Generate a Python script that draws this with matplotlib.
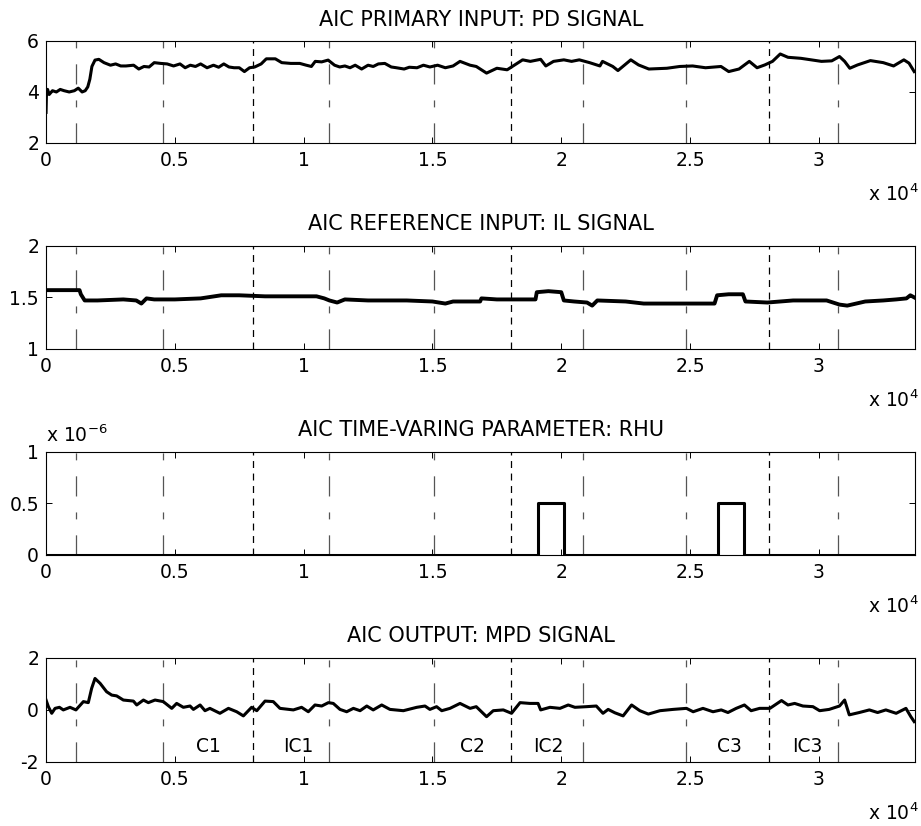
import numpy as np
import matplotlib
matplotlib.use("Agg")
import matplotlib.pyplot as plt
from matplotlib.ticker import FormatStrFormatter

plt.rcParams['font.family'] = 'DejaVu Sans'
plt.rcParams['lines.scale_dashes'] = False
plt.rcParams['mathtext.default'] = 'regular'

# time axis is in units of 10^4 samples
XMAX = 3.375

# AIC primary input: PD signal
pd_t = [0, 0.002, 0.006, 0.012, 0.025, 0.04, 0.055, 0.07, 0.09, 0.11,
        0.125, 0.14, 0.152, 0.162, 0.17, 0.178, 0.19, 0.205, 0.225, 0.25,
        0.27, 0.29, 0.31, 0.34, 0.36, 0.38, 0.40, 0.42, 0.445, 0.47,
        0.495, 0.52, 0.54, 0.56, 0.58, 0.60, 0.625, 0.65, 0.67, 0.69,
        0.71, 0.73, 0.75, 0.77, 0.79, 0.81, 0.835, 0.855, 0.875, 0.89,
        0.915, 0.95, 0.985, 1.01, 1.03, 1.045, 1.07, 1.095, 1.12, 1.14,
        1.16, 1.18, 1.20, 1.225, 1.25, 1.27, 1.29, 1.315, 1.34, 1.36,
        1.39, 1.41, 1.44, 1.465, 1.49, 1.52, 1.55, 1.58, 1.607, 1.646,
        1.67, 1.71, 1.75, 1.79, 1.81, 1.85, 1.88, 1.92, 1.94, 1.97,
        2.01, 2.04, 2.07, 2.11, 2.15, 2.16, 2.20, 2.22, 2.27, 2.30,
        2.34, 2.41, 2.46, 2.51, 2.56, 2.62, 2.65, 2.69, 2.73, 2.76,
        2.79, 2.82, 2.85, 2.88, 2.93, 2.97, 3.01, 3.05, 3.08, 3.10,
        3.12, 3.15, 3.20, 3.25, 3.29, 3.33, 3.35, 3.37]
pd_y = [3.2, 4.1, 4.1, 3.9, 4.05, 4.0, 4.1, 4.05, 4.0, 4.05,
        4.15, 4.0, 4.05, 4.2, 4.5, 5.0, 5.25, 5.28, 5.15, 5.05,
        5.1, 5.02, 5.02, 5.05, 4.9, 5.0, 4.98, 5.15, 5.12, 5.1,
        5.02, 5.1, 4.95, 5.05, 5.0, 5.1, 4.95, 5.05, 4.97, 5.1,
        4.98, 4.95, 4.95, 4.8, 4.95, 4.98, 5.1, 5.3, 5.3, 5.3,
        5.15, 5.12, 5.12, 5.05, 5.0, 5.2, 5.18, 5.25, 5.05, 4.98,
        5.02, 4.95, 5.05, 4.9, 5.05, 5.0, 5.1, 5.12, 4.98, 4.95,
        4.9, 4.97, 4.95, 5.05, 4.98, 5.05, 4.95, 5.02, 5.2, 5.05,
        5.0, 4.74, 4.93, 4.87, 5.0, 5.26, 5.2, 5.28, 5.02, 5.2,
        5.26, 5.2, 5.26, 5.15, 5.02, 5.2, 5.0, 4.84, 5.26, 5.06,
        4.9, 4.93, 5.0, 5.02, 4.95, 5.0, 4.8, 4.9, 5.2, 4.95,
        5.06, 5.2, 5.49, 5.36, 5.32, 5.26, 5.2, 5.22, 5.39, 5.2,
        4.93, 5.06, 5.23, 5.15, 5.02, 5.26, 5.13, 4.8]

# AIC reference input: IL signal
il_t = [0, 0.13, 0.135, 0.15, 0.2, 0.3, 0.35, 0.37, 0.39, 0.42,
        0.5, 0.6, 0.68, 0.75, 0.85, 1.0, 1.05, 1.08, 1.1, 1.13,
        1.16, 1.25, 1.4, 1.5, 1.55, 1.58, 1.62, 1.685, 1.69, 1.75,
        1.9, 1.905, 1.95, 2.0, 2.01, 2.05, 2.1, 2.12, 2.14, 2.25,
        2.32, 2.45, 2.55, 2.595, 2.605, 2.65, 2.705, 2.715, 2.8, 2.9,
        3.03, 3.08, 3.11, 3.18, 3.25, 3.3, 3.34, 3.355, 3.37]
il_y = [1.57, 1.57, 1.53, 1.47, 1.47, 1.48, 1.47, 1.44, 1.49, 1.48,
        1.48, 1.49, 1.52, 1.52, 1.51, 1.51, 1.51, 1.49, 1.47, 1.45,
        1.48, 1.47, 1.47, 1.46, 1.44, 1.46, 1.46, 1.46, 1.49, 1.48,
        1.48, 1.55, 1.56, 1.55, 1.47, 1.46, 1.45, 1.42, 1.47, 1.46,
        1.44, 1.44, 1.44, 1.44, 1.52, 1.53, 1.53, 1.46, 1.45, 1.47,
        1.47, 1.43, 1.42, 1.46, 1.47, 1.48, 1.49, 1.52, 1.50]

# AIC time-varying parameter: RHU (x 1e-6)
rhu_t = [0, 1.91, 1.91, 2.01, 2.01, 2.61, 2.61, 2.71, 2.71, 3.375]
rhu_y = [0, 0, 0.5, 0.5, 0, 0, 0.5, 0.5, 0, 0]

# AIC output: MPD signal
mpd_t = [0, 0.009, 0.022, 0.035, 0.052, 0.067, 0.093, 0.116, 0.145, 0.164,
         0.177, 0.19, 0.21, 0.235, 0.255, 0.274, 0.30, 0.339, 0.352, 0.378,
         0.397, 0.423, 0.455, 0.488, 0.507, 0.533, 0.559, 0.572, 0.598, 0.617,
         0.636, 0.675, 0.708, 0.74, 0.766, 0.798, 0.818, 0.85, 0.882, 0.908,
         0.96, 0.992, 1.018, 1.044, 1.07, 1.096, 1.115, 1.141, 1.167, 1.193,
         1.219, 1.245, 1.27, 1.303, 1.335, 1.387, 1.439, 1.471, 1.49, 1.516,
         1.536, 1.568,
         1.607, 1.646, 1.67, 1.71, 1.736, 1.775, 1.807, 1.84, 1.878, 1.91,
         1.92, 1.956, 1.995, 2.027, 2.053, 2.098, 2.136, 2.162, 2.182, 2.208,
         2.24, 2.273, 2.305, 2.338, 2.383, 2.434, 2.486, 2.512, 2.55, 2.589,
         2.621, 2.647, 2.679, 2.711, 2.737, 2.77, 2.81, 2.855, 2.88, 2.906,
         2.938, 2.977, 3.003, 3.04, 3.08, 3.1, 3.118, 3.157, 3.196, 3.228,
         3.26, 3.3, 3.338, 3.357, 3.37]
mpd_y = [0.37, 0.115, -0.14, 0.05, 0.09, -0.01, 0.09, -0.01, 0.31, 0.27,
         0.82, 1.2, 1.01, 0.69, 0.56, 0.53, 0.37, 0.33, 0.18, 0.37,
         0.27, 0.37, 0.31, 0.05, 0.24, 0.09, 0.14, 0.01, 0.18, -0.04,
         0.05, -0.14, 0.05, -0.08, -0.24, 0.09, -0.04, 0.33, 0.31, 0.05,
         -0.01, 0.09, -0.08, 0.18, 0.14, 0.27, 0.24, 0.01, -0.08, 0.05,
         -0.04, 0.14, -0.01, 0.18, 0.01, -0.04, 0.09, 0.14, 0.01, 0.115,
         -0.04, 0.05,
         0.24, 0.05, 0.115, -0.27, -0.04, -0.01, -0.14, 0.27, 0.24, 0.24,
         -0.01, 0.09, 0.05, 0.18, 0.09, 0.115, 0.14, -0.14, 0.01, -0.12,
         -0.24, 0.18, -0.04, -0.17, -0.04, 0.01, 0.05, -0.08, 0.05, -0.08,
         -0.01, -0.11, 0.05, 0.18, -0.04, 0.05, 0.05, 0.35, 0.18, 0.24,
         0.14, 0.115, -0.04, 0.01, 0.14, 0.37, -0.2, -0.11, -0.01, -0.11,
         -0.01, -0.14, 0.05, -0.27, -0.46]

# segment boundaries (dash-dot) and C/IC switches (dashed)
seg_lines = [0.1164, 0.454, 1.0982, 1.5056, 2.0838, 2.4835, 3.0733]
switch_lines = [0.8033, 1.8044, 2.8056]

phase_labels = ['C1', 'IC1', 'C2', 'IC2', 'C3', 'IC3']
phase_x = [0.63, 0.98, 1.655, 1.948, 2.654, 2.957]

titles = ['AIC PRIMARY INPUT: PD SIGNAL', 'AIC REFERENCE INPUT: IL SIGNAL',
          'AIC TIME-VARING PARAMETER: RHU', 'AIC OUTPUT: MPD SIGNAL']
ylims = [(2, 6), (1, 2), (0, 1), (-2, 2)]
yticks = [[2, 4, 6], [1, 1.5, 2], [0, 0.5, 1], [-2, 0, 2]]
series = [(pd_t, pd_y), (il_t, il_y), (rhu_t, rhu_y), (mpd_t, mpd_y)]
positions = [(0.05, 0.8269, 0.944, 0.1235), (0.05, 0.5775, 0.944, 0.125),
             (0.05, 0.3281, 0.944, 0.125), (0.05, 0.0779, 0.944, 0.1259)]

FS = 13.5
fig = plt.figure(figsize=(9.21, 8.26), dpi=100)

for i in range(4):
    ax = fig.add_axes(positions[i])
    t, y = series[i]
    for xv in seg_lines:
        ax.axvline(xv, color='#555555', lw=0.9, dashes=(14.5, 11.5, 5, 11.5), zorder=1)
    for xv in switch_lines:
        ax.axvline(xv, color='black', lw=0.9, dashes=(5, 4), zorder=1)
    lw = 2.8 if i == 1 else 2.2
    ax.plot(t, y, color='black', lw=lw, zorder=3, solid_joinstyle='round')

    ax.set_xlim(0, XMAX)
    ax.set_ylim(*ylims[i])
    ax.set_xticks([0, 0.5, 1, 1.5, 2, 2.5, 3])
    ax.set_yticks(yticks[i])
    ax.xaxis.set_major_formatter(FormatStrFormatter('%g'))
    ax.yaxis.set_major_formatter(FormatStrFormatter('%g'))
    ax.tick_params(direction='in', length=4, width=0.7, top=True, right=True,
                   labelsize=FS)
    ax.tick_params(axis='x', pad=6)
    ax.tick_params(axis='y', pad=5)
    for sp in ax.spines.values():
        sp.set_linewidth(0.8)
    ax.set_title(titles[i], fontsize=15, pad=11)
    ax.annotate('x 10$^{4}$', xy=(1, 0), xycoords='axes fraction',
                xytext=(2, -37), textcoords='offset points',
                ha='right', va='center', fontsize=FS)
    if i == 2:
        ax.annotate('x 10$^{-6}$', xy=(0, 1), xycoords='axes fraction',
                    xytext=(0, 12), textcoords='offset points',
                    ha='left', va='center', fontsize=FS)
    if i == 3:
        for lab, xv in zip(phase_labels, phase_x):
            ax.text(xv, -1.4, lab, ha='center', va='center', fontsize=FS)

fig.savefig('out.png', dpi=100)
